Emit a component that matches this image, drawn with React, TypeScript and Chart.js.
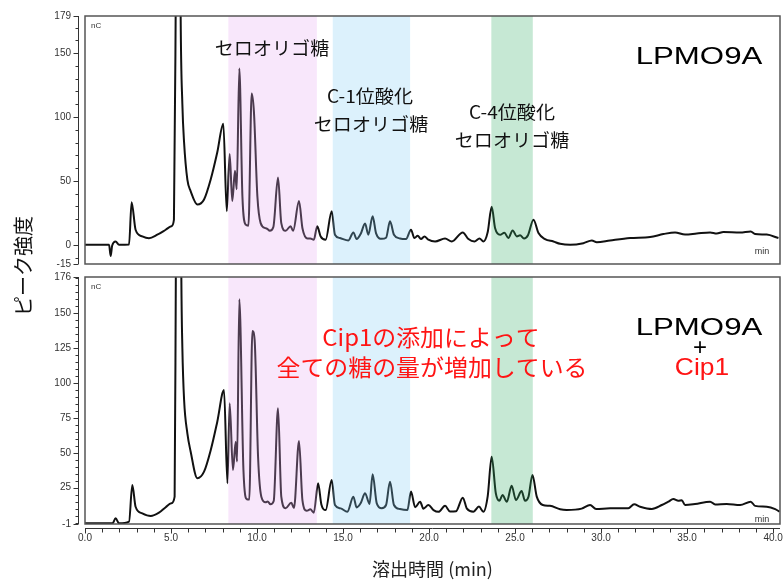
import React, { useEffect, useRef } from 'react';
import { Chart, registerables } from 'chart.js';

Chart.register(...registerables);

// ---------- data ----------
const xTickValues = [0, 5, 10, 15, 20, 25, 30, 35, 40];
const xTickLabels = ['0.0', '5.0', '10.0', '15.0', '20.0', '25.0', '30.0', '35.0', '40.0'];

const topYTicks = [-15, 0, 50, 100, 150, 179];
const bottomYTicks = [-1, 25, 50, 75, 100, 125, 150, 176];

// LPMO9A (top panel): retention time (min) / signal (nC)
const topTimes = [
  0, 1.40, 1.49, 1.58, 1.78, 1.98, 2.56, 2.71, 2.94, 3.33, 3.72, 4.20, 4.69, 5.02, 5.17, 5.27, 5.36, 5.47, 5.56, 5.66,
  5.76, 5.95, 6.14, 6.53, 6.92, 7.31, 7.69, 8.04, 8.24, 8.41, 8.56, 8.72, 8.82, 8.97, 9.15, 9.34, 9.50, 9.69, 9.82, 10.02,
  10.21, 10.50, 10.60, 10.74, 10.95, 11.22, 11.41, 11.66, 11.95, 12.10, 12.44, 12.64, 12.93, 13.10, 13.30, 13.50, 13.70, 13.99, 14.34, 14.53,
  14.82, 15.31, 15.60, 15.79, 16.03, 16.28, 16.47, 16.72, 16.92, 17.25, 17.50, 17.73, 17.96, 18.31, 18.66, 18.95, 19.15, 19.34, 19.53, 19.73,
  19.96, 20.35, 20.93, 21.32, 21.96, 22.29, 22.64, 22.93, 23.16, 23.41, 23.64, 23.84, 24.13, 24.38, 24.61, 24.86, 25.10, 25.29, 25.52, 25.75,
  26.07, 26.36, 26.74, 27.23, 27.62, 28.20, 28.97, 29.46, 29.75, 30.52, 31.69, 32.85, 33.62, 34.30, 34.88, 35.56, 36.34, 36.72, 37.11, 38.08,
  38.70, 38.95, 39.63, 40.31,
];
const topSignal = [
  0, 0, -8.7, -0.5, 2.6, 0, 0.3, 33.4, 11.8, 6.6, 5.2, 7.9, 11.8, 14.5, 19.7, 180, 420, 420, 180, 110,
  80, 51, 42, 31.6, 35.5, 51.3, 72.4, 94.7, 26.3, 71, 34.2, 57.9, 43.4, 138, 38, 15.8, 15, 118.4, 104, 38,
  17, 13, 12.5, 11, 14, 52.6, 17, 11, 14.5, 11, 34.2, 13, 5, 5, 4, 14.5, 6.5, 4, 26.3, 7.9,
  5.3, 3.4, 9.7, 4.5, 8.7, 16.6, 7.9, 22.4, 9, 4.7, 5.5, 18.4, 7.9, 5.0, 4.5, 11.8, 5.3, 7.1, 4.5, 6.6,
  4, 2.6, 5, 2.6, 9.7, 4.5, 2.6, 5, 2.6, 10, 29.7, 13, 7.9, 9.5, 5.3, 11.3, 6.6, 7.5, 5, 7.5,
  19.7, 9.2, 4.5, 2.6, 0.8, 0, 1.3, 3.4, 2, 3.4, 5.3, 6.1, 8.4, 9.7, 8, 8.8, 9.7, 8.8, 10, 9.7,
  10.5, 8.5, 8, 5.3,
];

// LPMO9A + Cip1 (bottom panel)
const bottomTimes = [
  0, 1.60, 1.78, 1.98, 2.56, 2.75, 2.94, 3.33, 3.82, 4.30, 4.69, 5.02, 5.21, 5.28, 5.38, 5.50, 5.60, 5.66, 5.76, 5.95,
  6.14, 6.53, 6.92, 7.31, 7.69, 8.08, 8.28, 8.41, 8.60, 8.76, 8.84, 8.97, 9.21, 9.41, 9.55, 9.73, 9.86, 10.06, 10.25, 10.50,
  10.62, 10.78, 10.97, 11.22, 11.41, 11.66, 11.99, 12.15, 12.44, 12.64, 12.89, 13.10, 13.30, 13.55, 13.74, 13.99, 14.34, 14.53, 14.86, 15.25,
  15.60, 15.79, 16.03, 16.28, 16.54, 16.72, 16.96, 17.25, 17.50, 17.73, 17.96, 18.31, 18.74, 18.95, 19.19, 19.48, 19.67, 19.96, 20.26, 20.55,
  20.93, 21.22, 21.57, 21.96, 22.20, 22.58, 22.90, 23.16, 23.41, 23.64, 23.88, 24.09, 24.27, 24.52, 24.80, 25.05, 25.38, 25.58, 25.78, 26.01,
  26.26, 26.61, 27.03, 27.62, 28.00, 28.87, 29.36, 29.71, 30.52, 31.58, 31.92, 32.27, 32.95, 33.53, 33.91, 34.20, 34.49, 34.69, 34.88, 35.46,
  36.34, 36.63, 37.30, 38.08, 38.70, 38.95, 39.63, 40.12, 40.37,
];
const bottomSignal = [
  -0.5, -0.5, 3.1, -0.5, 0.7, 27, 11.4, 6.6, 4.7, 7.1, 11, 13.8, 18.6, 176, 420, 420, 176, 125, 88, 64,
  51, 31.8, 36.5, 52, 72.3, 95, 28.2, 85.5, 37.7, 58, 43.7, 160, 37.7, 16.7, 16.5, 137.3, 131, 47.2, 18.6, 14.6,
  15.2, 13.1, 15.5, 82, 18.6, 10.3, 14.3, 10.5, 58.5, 16, 8.5, 9.5, 7.1, 28.2, 13, 9, 30.5, 12.6, 10.2, 7.8,
  18.6, 10.9, 14, 21, 13.4, 34.6, 13.8, 10.3, 12.6, 29.3, 12.6, 9.7, 9, 22.2, 11, 15, 10, 12.6, 9, 7.8,
  12, 8, 8.2, 17.9, 10, 7.8, 11.5, 7.8, 19, 47.2, 21, 15.7, 19.8, 15, 26.4, 16.2, 22.6, 15.6, 18.5, 34.1,
  18.6, 12.6, 12, 9.5, 9, 10, 12.6, 9.7, 10.3, 10.3, 13.1, 11.4, 9.8, 12.6, 15, 16.9, 15.6, 16, 12.6, 13.3,
  15, 13, 13.4, 12.6, 15, 12, 11.4, 9.7, 7.8,
];

// shaded retention windows
const bandStart = [8.33, 14.4, 23.62];
const bandEnd = [13.48, 18.9, 26.03];
const bandColors = ['rgba(230,170,240,0.28)', 'rgba(130,205,244,0.28)', 'rgba(52,173,102,0.28)'];

const JP = "'Noto Sans CJK JP', 'Noto Sans', sans-serif";
const LAT = "'Liberation Sans', Arial, sans-serif";

type TextItem = { text: string; x: number; y: number; font: string; color: string; align?: CanvasTextAlign; rotate?: number; sx?: number };

const topTexts: TextItem[] = [
  { text: 'nC', x: 91, y: 26, font: `8px ${LAT}`, color: '#333', align: 'left' },
  { text: 'min', x: 762, y: 252, font: `9px ${LAT}`, color: '#333' },
  { text: 'セロオリゴ糖', x: 272, y: 48, font: `18px ${JP}`, color: '#111', sx: 1.06 },
  { text: 'C-1位酸化', x: 370, y: 96, font: `18px ${JP}`, color: '#111', sx: 1.06 },
  { text: 'セロオリゴ糖', x: 371, y: 124, font: `18px ${JP}`, color: '#111', sx: 1.06 },
  { text: 'C-4位酸化', x: 512, y: 112, font: `18px ${JP}`, color: '#111', sx: 1.06 },
  { text: 'セロオリゴ糖', x: 512, y: 140, font: `18px ${JP}`, color: '#111', sx: 1.06 },
  { text: 'LPMO9A', x: 699, y: 57, font: `24px ${LAT}`, color: '#000', sx: 1.3 },
];

const bottomTexts: TextItem[] = [
  { text: 'nC', x: 91, y: 287, font: `8px ${LAT}`, color: '#333', align: 'left' },
  { text: 'min', x: 762, y: 520, font: `9px ${LAT}`, color: '#333' },
  { text: 'Cip1の添加によって', x: 431, y: 337, font: `23px ${JP}`, color: '#ff1414', sx: 1.04 },
  { text: '全ての糖の量が増加している', x: 432, y: 367, font: `23px ${JP}`, color: '#ff1414', sx: 1.04 },
  { text: 'LPMO9A', x: 699, y: 328, font: `24px ${LAT}`, color: '#000', sx: 1.3 },
  { text: '+', x: 700, y: 348, font: `24px ${LAT}`, color: '#000' },
  { text: 'Cip1', x: 702, y: 368, font: `24px ${LAT}`, color: '#ff1414', sx: 1.1 },
  { text: 'ピーク強度', x: 23, y: 266, font: `20px ${JP}`, color: '#111', rotate: -Math.PI / 2 },
];

function toPoints(xs: number[], ys: number[]) {
  return xs.map((x, i) => ({ x, y: ys[i] }));
}

const bandPlugin = {
  id: 'bands',
  afterDatasetsDraw(chart: any) {
    const { ctx, chartArea } = chart;
    const xs = chart.scales.x;
    ctx.save();
    bandStart.forEach((s, i) => {
      const x0 = xs.getPixelForValue(s);
      const x1 = xs.getPixelForValue(bandEnd[i]);
      ctx.fillStyle = bandColors[i];
      ctx.fillRect(x0, chartArea.top, x1 - x0, chartArea.bottom - chartArea.top);
    });
    ctx.restore();
  },
};

function makeFramePlugin(majors: number[], drawX: boolean) {
  return {
    id: 'frameAxes',
    afterDraw(chart: any) {
      const { ctx, chartArea } = chart;
      const { left, right, top, bottom } = chartArea;
      const ys = chart.scales.y;
      ctx.save();
      ctx.strokeStyle = '#555';
      ctx.lineWidth = 1.5;
      ctx.strokeRect(left, top, right - left, bottom - top);
      ctx.strokeStyle = '#333';
      ctx.lineWidth = 1;
      const ax = left - 6.5;
      ctx.beginPath();
      ctx.moveTo(ax, top);
      ctx.lineTo(ax, bottom);
      ys.ticks.forEach((t: any) => {
        const y = Math.round(ys.getPixelForValue(t.value)) + 0.5;
        const len = majors.includes(t.value) ? 5 : 3;
        ctx.moveTo(ax, y);
        ctx.lineTo(ax - len, y);
      });
      ctx.stroke();
      if (drawX) {
        const xs = chart.scales.x;
        const ay = bottom + 4.5;
        ctx.beginPath();
        ctx.moveTo(left, ay);
        ctx.lineTo(right, ay);
        xs.ticks.forEach((t: any) => {
          const x = Math.round(xs.getPixelForValue(t.value)) + 0.5;
          const len = xTickValues.includes(t.value) ? 5 : 4;
          ctx.moveTo(x, ay);
          ctx.lineTo(x, ay + len);
        });
        ctx.stroke();
      }
      ctx.restore();
    },
  };
}

function makeTextPlugin(items: TextItem[]) {
  return {
    id: 'texts',
    afterDraw(chart: any) {
      const { ctx } = chart;
      items.forEach((it) => {
        ctx.save();
        ctx.font = it.font;
        ctx.fillStyle = it.color;
        ctx.textAlign = it.align || 'center';
        ctx.textBaseline = 'middle';
        ctx.translate(it.x, it.y);
        if (it.rotate) ctx.rotate(it.rotate);
        if (it.sx) ctx.scale(it.sx, 1);
        ctx.fillText(it.text, 0, 0);
        ctx.restore();
      });
    },
  };
}

function yScale(min: number, max: number, majors: number[], step: number) {
  return {
    type: 'linear' as const,
    min,
    max,
    afterBuildTicks: (s: any) => {
      const vals = new Set<number>(majors);
      for (let v = Math.ceil(min / step) * step; v <= max; v += step) vals.add(v);
      s.ticks = Array.from(vals).sort((a, b) => a - b).map((v) => ({ value: v }));
    },
    afterFit: (s: any) => {
      s.width = 85;
      s.paddingTop = 0;
      s.paddingBottom = 0;
    },
    grid: { display: false, drawTicks: false },
    border: { display: false },
    ticks: {
      autoSkip: false,
      padding: 14,
      color: '#333',
      font: { size: 10, family: LAT },
      callback: (v: any) => (majors.includes(v) ? String(v) : ''),
    },
  };
}

export default function App() {
  const topRef = useRef<HTMLCanvasElement>(null);
  const bottomRef = useRef<HTMLCanvasElement>(null);

  useEffect(() => {
    document.body.style.margin = '0';
    const lineStyle = {
      borderColor: '#111',
      borderWidth: 2,
      pointRadius: 0,
      fill: false,
      cubicInterpolationMode: 'monotone' as const,
    };

    const bottomChart = new Chart(bottomRef.current!, {
      type: 'line',
      data: {
        datasets: [{ label: 'LPMO9A + Cip1', data: toPoints(bottomTimes, bottomSignal), ...lineStyle }],
      },
      options: {
        animation: false,
        responsive: false,
        devicePixelRatio: 1,
        layout: { padding: { top: 277, bottom: 0, left: 0, right: 3 } },
        plugins: { legend: { display: false }, tooltip: { enabled: false } },
        scales: {
          x: {
            type: 'linear',
            min: 0,
            max: 40.4,
            afterBuildTicks: (s: any) => {
              const t = [];
              for (let v = 0; v <= 40; v += 1) t.push({ value: v });
              s.ticks = t;
            },
            afterFit: (s: any) => {
              s.height = 57;
              s.paddingLeft = 0;
              s.paddingRight = 0;
            },
            grid: { display: false, drawTicks: false },
            border: { display: false },
            ticks: {
              autoSkip: false,
              maxRotation: 0,
              padding: 8,
              color: '#333',
              font: { size: 10, family: LAT },
              callback: (v: any) => {
                const i = xTickValues.indexOf(v);
                return i >= 0 ? xTickLabels[i] : '';
              },
            },
            title: {
              display: true,
              text: '溶出時間 (min)',
              color: '#222',
              font: { size: 18, family: JP },
              padding: { top: 0, bottom: 1 },
            },
          },
          y: yScale(-1, 176, bottomYTicks, 5),
        },
      },
      plugins: [bandPlugin, makeFramePlugin(bottomYTicks, true), makeTextPlugin(bottomTexts)],
    });

    const topChart = new Chart(topRef.current!, {
      type: 'line',
      data: {
        datasets: [{ label: 'LPMO9A', data: toPoints(topTimes, topSignal), ...lineStyle }],
      },
      options: {
        animation: false,
        responsive: false,
        devicePixelRatio: 1,
        layout: { padding: { top: 16, bottom: 317, left: 0, right: 3 } },
        plugins: { legend: { display: false }, tooltip: { enabled: false } },
        scales: {
          x: { type: 'linear', min: 0, max: 40.4, display: false },
          y: yScale(-15, 179, topYTicks, 10),
        },
      },
      plugins: [bandPlugin, makeFramePlugin(topYTicks, false), makeTextPlugin(topTexts)],
    });

    return () => {
      topChart.destroy();
      bottomChart.destroy();
    };
  }, []);

  return (
    <div style={{ position: 'relative', width: 783, height: 581, background: '#fff' }}>
      <canvas ref={bottomRef} width={783} height={581} style={{ position: 'absolute', left: 0, top: 0 }} />
      <canvas ref={topRef} width={783} height={581} style={{ position: 'absolute', left: 0, top: 0 }} />
    </div>
  );
}
